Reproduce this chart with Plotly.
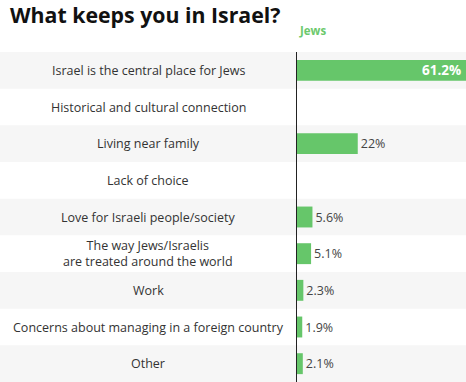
import plotly.graph_objects as go

categories = [
    "Israel is the central place for Jews",
    "Historical and cultural connection",
    "Living near family",
    "Lack of choice",
    "Love for Israeli people/society",
    "The way Jews/Israelis<br>are treated around the world",
    "Work",
    "Concerns about managing in a foreign country",
    "Other",
]
values = [61.2, None, 22, None, 5.6, 5.1, 2.3, 1.9, 2.1]
value_labels = ["61.2%", "", "22%", "", "5.6%", "5.1%", "2.3%", "1.9%", "2.1%"]
series_name = "Jews"

W, H = 466, 382
L, T = 297, 52
plot_w = W - L

ids = list(range(len(categories)))
bar_color = "#66c66a"
inside = [(v or 0) > 40 for v in values]

fig = go.Figure()
fig.add_trace(go.Bar(
    y=ids, x=[v if v is not None else 0 for v in values], orientation="h",
    marker=dict(color=bar_color, line=dict(width=0)),
    text=["" if ins else t for ins, t in zip(inside, value_labels)],
    textposition="outside",
    textfont=dict(color="#444", family="Open Sans", size=12.5),
    cliponaxis=False,
    width=0.57,
    hoverinfo="skip",
))

shapes = []
for i in ids:
    if i % 2 == 0:
        shapes.append(dict(type="rect", xref="paper", yref="y",
                           x0=-L / plot_w, x1=1, y0=i - 0.5, y1=i + 0.5,
                           fillcolor="#f6f6f6", line=dict(width=0), layer="below"))

annotations = []
for i, c in zip(ids, categories):
    annotations.append(dict(xref="paper", yref="y", x=(148 - L) / plot_w, y=i,
                            text=c, showarrow=False, xanchor="center", yanchor="middle",
                            font=dict(family="Open Sans", size=12.5, color="#333"),
                            align="center"))
for i, ins in zip(ids, inside):
    if ins:
        annotations.append(dict(xref="x", yref="y", x=values[i], y=i,
                                text="<b>" + value_labels[i] + "</b>", showarrow=False,
                                xanchor="right", yanchor="middle", xshift=-3,
                                font=dict(family="Open Sans", size=13.5, color="white")))
annotations.append(dict(xref="paper", yref="paper", x=0, y=1 + 21 / (H - T),
                        text="<b>" + series_name + "</b>", showarrow=False,
                        xanchor="left", yanchor="middle",
                        font=dict(family="Open Sans", size=11.5, color="#6cc96c")))

fig.update_layout(
    width=W, height=H,
    margin=dict(l=L, r=0, t=T, b=0),
    paper_bgcolor="white", plot_bgcolor="rgba(0,0,0,0)",
    title=dict(text="<b>What keeps you in Israel?</b>", x=10 / W, xanchor="left",
               y=1 - 16 / H, yanchor="middle",
               font=dict(family="Open Sans", size=21.3, color="#111")),
    showlegend=False,
    shapes=shapes,
    annotations=annotations,
    xaxis=dict(range=[0, 61.2], visible=False, fixedrange=True),
    yaxis=dict(range=[len(categories) - 0.5, -0.5], showticklabels=False,
               showgrid=False, zeroline=False, showline=True,
               linecolor="#222", linewidth=1, ticks="", fixedrange=True),
    bargap=0.43,
)

fig.write_html("out.html", config={"displayModeBar": False, "staticPlot": True},
               post_script="document.body.style.margin='0';document.body.style.overflow='hidden';")
